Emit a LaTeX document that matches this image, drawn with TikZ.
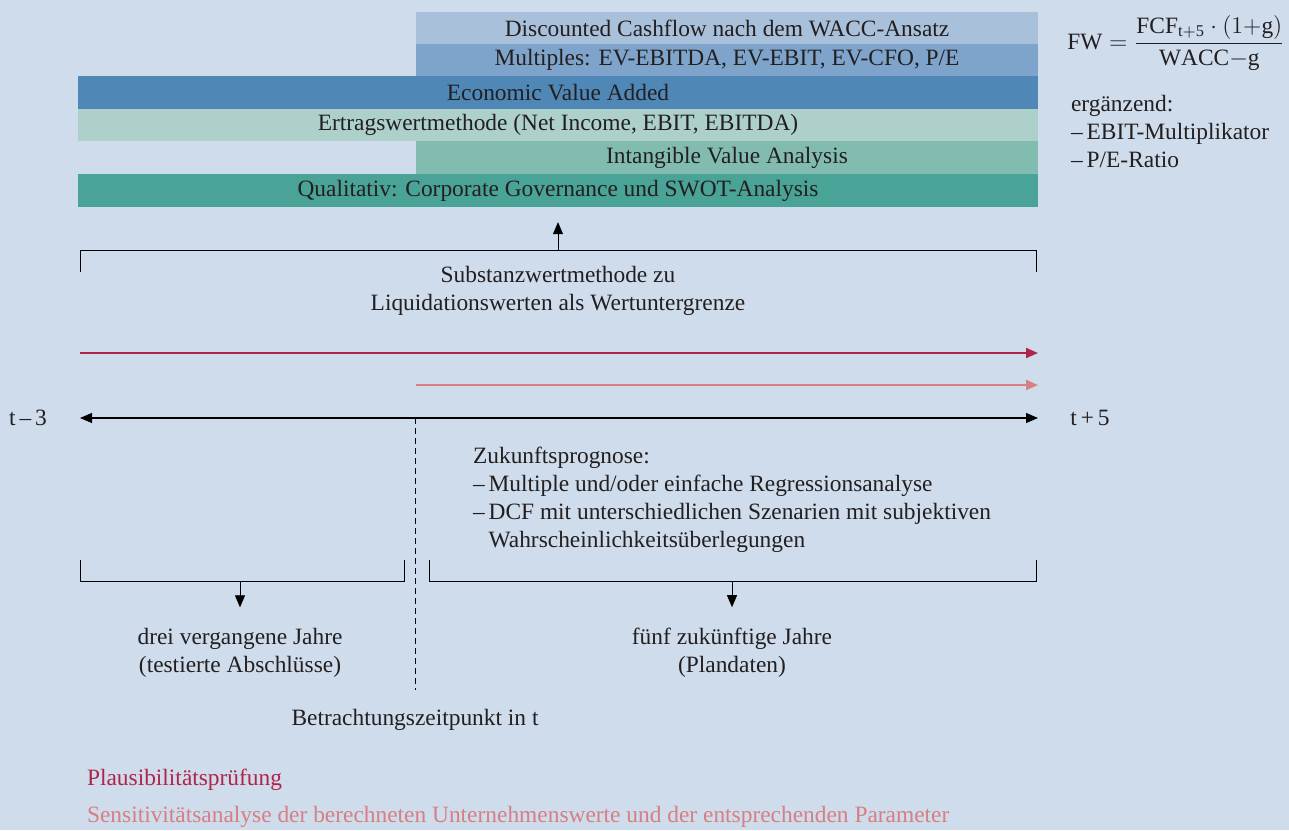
\documentclass[tikz,border=0pt]{standalone}
\usepackage{fontspec}
\setmainfont{Liberation Serif}
\usetikzlibrary{arrows.meta}
\definecolor{bgblue}{HTML}{CEDCEC}
\definecolor{barA}{HTML}{A9C0DA}
\definecolor{barB}{HTML}{7FA4CB}
\definecolor{barC}{HTML}{4F87B7}
\definecolor{barD}{HTML}{ADD1CA}
\definecolor{barE}{HTML}{82BCB1}
\definecolor{barF}{HTML}{49A396}
\definecolor{darkred}{HTML}{B0244A}
\definecolor{lightred}{HTML}{D77F82}
\definecolor{ink}{HTML}{231F20}
\begin{document}
\begin{tikzpicture}[x=0.5pt,y=-0.5pt,font=\fontsize{11.7}{14}\selectfont,text=ink,
  bar/.style={inner sep=0pt,minimum height=16.25pt,anchor=center},
  wide/.style={bar,minimum width=480pt},
  half/.style={bar,minimum width=311pt},
  tip/.style={-{Triangle[length=6pt,width=5pt]}}]
\fill[bgblue] (0,0) rectangle (1289,830);
\useasboundingbox (0,0) rectangle (1289,830);
% methods
\node[half,fill=barA] (dcf) at (727,28) {Discounted Cashflow nach dem WACC-Ansatz};
\node[half,fill=barB] (mult) at (727,60) {Multiples: EV-EBITDA, EV-EBIT, EV-CFO, P/E};
\node[wide,fill=barC] (eva) at (558,92.5) {Economic Value Added};
\node[wide,fill=barD] (ertrag) at (558,125) {Ertragswertmethode (Net Income, EBIT, EBITDA)};
\node[half,fill=barE] (iva) at (727,157.5) {Intangible Value Analysis};
\node[wide,fill=barF] (qual) at (558,190.5) {Qualitativ: Corporate Governance und SWOT-Analysis};
% formula
\node (fw) at (1176,43) {$\mathrm{FW} = \displaystyle\frac{\mathrm{FCF}_{\mathrm{t{+}5}}\cdot(1{+}\mathrm{g})}{\mathrm{WACC}{-}\mathrm{g}}$};
\node[anchor=north west,align=left] (extra) at (1064,88) {ergänzend:\\–\,EBIT-Multiplikator\\–\,P/E-Ratio};
% Substanzwert
\coordinate (sb-a) at (80,272);
\coordinate (sb-b) at (80,250);
\coordinate (sb-m) at (558,250);
\coordinate (sb-c) at (1036,250);
\coordinate (sb-d) at (1036,272);
\draw (sb-a) -- (sb-b) -- (sb-c) -- (sb-d);
\draw[tip] (sb-m) -- ([yshift=-7.5pt]qual.south);
\node[align=center] (subst) at (558,291) {Substanzwertmethode zu\\Liquidationswerten als Wertuntergrenze};
% checks
\coordinate (pl-a) at (80,353);
\coordinate (pl-b) at (1038,353);
\coordinate (se-a) at (416,385);
\coordinate (se-b) at (1038,385);
\draw[tip,darkred,line width=1pt] (pl-a) -- (pl-b);
\draw[tip,lightred,line width=1pt] (se-a) -- (se-b);
% time axis
\node (tm3) at (28,418) {t\,–\,3};
\node (tp5) at (1090,418) {t\,+\,5};
\coordinate (tl-a) at (80,418);
\coordinate (tl-b) at (1038,418);
\draw[{Triangle[length=6pt,width=5pt]}-{Triangle[length=6pt,width=5pt]},line width=0.6pt] (tl-a) -- (tl-b);
\coordinate (now) at (415,418);
\coordinate (now-b) at (415,690);
\draw[dashed,dash pattern=on 3pt off 2pt] (now) -- (now-b);
\node[anchor=west,align=left] (prog) at (466,500) {Zukunftsprognose:\\–\,Multiple und/oder einfache Regressionsanalyse\\–\,DCF mit unterschiedlichen Szenarien mit subjektiven\\\phantom{–\,}Wahrscheinlichkeitsüberlegungen};
% past / future
\coordinate (lb-a) at (80,560);
\coordinate (lb-b) at (80,581);
\coordinate (lb-m) at (240,581);
\coordinate (lb-c) at (404,581);
\coordinate (lb-d) at (404,560);
\draw (lb-a) -- (lb-b) -- (lb-c) -- (lb-d);
\coordinate (rb-a) at (429,560);
\coordinate (rb-b) at (429,581);
\coordinate (rb-m) at (732,581);
\coordinate (rb-c) at (1036,581);
\coordinate (rb-d) at (1036,560);
\draw (rb-a) -- (rb-b) -- (rb-c) -- (rb-d);
\node[align=center] (past) at (240,653) {drei vergangene Jahre\\(testierte Abschlüsse)};
\node[align=center] (future) at (732,653) {fünf zukünftige Jahre\\(Plandaten)};
\draw[tip] (lb-m) -- ([yshift=7pt]past.north);
\draw[tip] (rb-m) -- ([yshift=7pt]future.north);
\node (point) at (415,720) {Betrachtungszeitpunkt in t};
% legend
\node[anchor=west,text=darkred] (plaus) at (80,780) {Plausibilitätsprüfung};
\node[anchor=west,text=lightred] (sens) at (80,817) {Sensitivitätsanalyse der berechneten Unternehmenswerte und der entsprechenden Parameter};
\end{tikzpicture}
\end{document}
